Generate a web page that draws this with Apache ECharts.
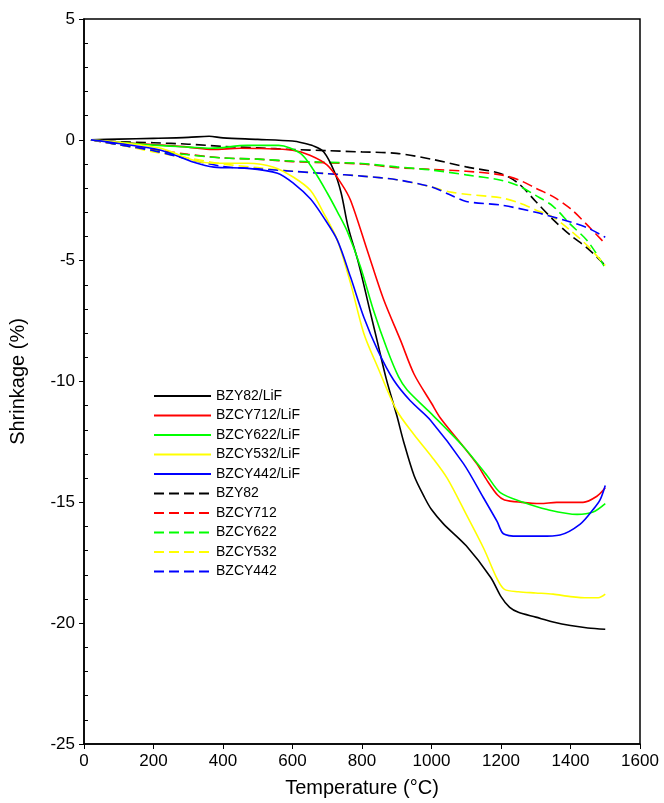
<!DOCTYPE html>
<html>
<head>
<meta charset="utf-8">
<script src="https://cdn.jsdelivr.net/npm/echarts@6/dist/echarts.min.js"></script>
<style>
  html, body { margin: 0; padding: 0; background: #fff; }
  #main { width: 664px; height: 803px; }
</style>
</head>
<body>
<div id="main"></div>
<script>
// shrinkage curves, [temperature, shrinkage %]
const bzy82LiF = [[20,0],[100,0.03],[200,0.06],[300,0.1],[360,0.15],[400,0.08],[500,0.02],[600,-0.05],[630,-0.13],[660,-0.25],[690,-0.5],[720,-1.3],[740,-2.2],[760,-3.6],[790,-5.1],[820,-6.9],[845,-8.4],[870,-9.9],[900,-11.4],[920,-12.5],[950,-13.9],[980,-14.8],[1000,-15.3],[1035,-15.9],[1100,-16.8],[1170,-18.1],[1200,-18.9],[1225,-19.35],[1250,-19.55],[1300,-19.75],[1350,-19.95],[1400,-20.1],[1450,-20.2],[1500,-20.25]];
const bzcy712LiF = [[20,0],[100,-0.1],[200,-0.2],[300,-0.3],[370,-0.4],[450,-0.35],[510,-0.36],[600,-0.43],[650,-0.64],[700,-1.05],[740,-1.8],[767,-2.5],[815,-4.57],[862,-6.6],[911,-8.3],[950,-9.7],[1000,-10.9],[1025,-11.5],[1092,-12.7],[1130,-13.4],[1160,-14.1],[1190,-14.7],[1210,-14.9],[1260,-15.0],[1313,-15.05],[1360,-15.0],[1436,-15.0],[1476,-14.75],[1500,-14.4]];
const bzcy622LiF = [[20,0],[100,-0.1],[200,-0.22],[300,-0.3],[365,-0.35],[470,-0.23],[560,-0.23],[623,-0.56],[661,-1.26],[700,-2.2],[730,-3.0],[758,-3.8],[796,-5.27],[833,-7.05],[873,-8.7],[905,-9.8],[930,-10.35],[997,-11.3],[1092,-12.7],[1160,-13.9],[1198,-14.6],[1264,-15.0],[1333,-15.3],[1419,-15.5],[1465,-15.4],[1500,-15.05]];
const bzcy532LiF = [[20,0],[100,-0.1],[221,-0.35],[316,-0.85],[374,-0.97],[471,-0.97],[546,-1.13],[603,-1.55],[652,-2.1],[690,-3.04],[729,-4.15],[767,-5.93],[805,-8.0],[845,-9.4],[900,-11.2],[950,-12.2],[1000,-13.1],[1045,-14.0],[1100,-15.5],[1150,-16.9],[1190,-18.2],[1210,-18.6],[1250,-18.7],[1300,-18.75],[1350,-18.8],[1400,-18.9],[1450,-18.95],[1480,-18.95],[1500,-18.8]];
const bzcy442LiF = [[20,0],[100,-0.15],[221,-0.43],[316,-0.93],[374,-1.13],[471,-1.18],[557,-1.38],[603,-1.8],[652,-2.45],[689,-3.2],[729,-4.15],[767,-5.68],[805,-7.33],[845,-8.7],[891,-9.94],[939,-10.8],[997,-11.6],[1092,-13.4],[1149,-14.8],[1189,-15.8],[1207,-16.3],[1250,-16.4],[1313,-16.4],[1370,-16.35],[1428,-15.9],[1465,-15.3],[1485,-14.9],[1500,-14.3]];
const bzy82 = [[20,0],[100,-0.08],[200,-0.12],[300,-0.18],[400,-0.27],[500,-0.33],[600,-0.4],[700,-0.45],[800,-0.5],[900,-0.56],[1000,-0.8],[1100,-1.12],[1200,-1.4],[1250,-1.8],[1300,-2.55],[1350,-3.3],[1400,-3.95],[1450,-4.5],[1500,-5.2]];
const bzcy712 = [[20,0],[100,-0.2],[200,-0.4],[300,-0.6],[400,-0.75],[500,-0.8],[600,-0.9],[700,-0.95],[800,-1.0],[900,-1.15],[1000,-1.22],[1100,-1.3],[1200,-1.45],[1250,-1.65],[1300,-2.0],[1350,-2.35],[1400,-2.85],[1450,-3.55],[1500,-4.3]];
const bzcy622 = [[20,0],[100,-0.2],[200,-0.45],[300,-0.62],[400,-0.75],[500,-0.8],[600,-0.88],[700,-0.93],[800,-0.98],[900,-1.12],[1000,-1.25],[1100,-1.45],[1200,-1.67],[1250,-1.9],[1300,-2.3],[1350,-2.75],[1400,-3.5],[1450,-4.2],[1500,-5.3]];
const bzcy532 = [[20,0],[100,-0.2],[200,-0.5],[300,-0.75],[400,-1.0],[500,-1.15],[600,-1.3],[700,-1.4],[800,-1.5],[900,-1.65],[1000,-1.95],[1050,-2.15],[1100,-2.25],[1200,-2.4],[1250,-2.6],[1300,-2.9],[1350,-3.2],[1400,-3.75],[1450,-4.4],[1500,-5.2]];
const bzcy442 = [[20,0],[100,-0.2],[200,-0.45],[300,-0.8],[400,-1.1],[500,-1.2],[600,-1.3],[700,-1.4],[800,-1.5],[900,-1.65],[1000,-1.95],[1050,-2.25],[1100,-2.55],[1200,-2.7],[1300,-3.0],[1400,-3.4],[1450,-3.65],[1500,-4.03]];

const names = ['BZY82/LiF','BZCY712/LiF','BZCY622/LiF','BZCY532/LiF','BZCY442/LiF','BZY82','BZCY712','BZCY622','BZCY532','BZCY442'];
const colors = ['#000000','#ff0000','#00ff00','#ffff00','#0000ff'];
const curves = [bzy82LiF, bzcy712LiF, bzcy622LiF, bzcy532LiF, bzcy442LiF, bzy82, bzcy712, bzcy622, bzcy532, bzcy442];

const font = 'Liberation Sans, Arial, sans-serif';

const series = curves.map(function (d, i) {
  return {
    name: names[i],
    type: 'line',
    data: d,
    symbol: 'none',
    smooth: 0.3,
    lineStyle: {
      color: colors[i % 5],
      width: 1.6,
      type: i < 5 ? 'solid' : [10, 5]
    },
    itemStyle: { color: colors[i % 5] },
    z: i < 5 ? 3 : 2
  };
});

const chart = echarts.init(document.getElementById('main'));
chart.setOption({
  animation: false,
  backgroundColor: '#fff',
  grid: {
    left: 83, right: 24, top: 19, bottom: 58,
    show: true, borderColor: '#000', borderWidth: 1.5
  },
  legend: {
    orient: 'vertical',
    left: 148, top: 384,
    itemWidth: 57, itemHeight: 14, itemGap: 5.5,
    itemStyle: { opacity: 0 },
    textStyle: { fontFamily: font, fontSize: 14, color: '#000' },
    data: names
  },
  xAxis: {
    type: 'value', min: 0, max: 1600, interval: 200,
    name: 'Temperature (°C)', nameLocation: 'middle', nameGap: 34,
    nameTextStyle: { fontFamily: font, fontSize: 20, color: '#000' },
    axisLine: { onZero: false, lineStyle: { color: '#000', width: 1.5 } },
    axisTick: { length: 5, lineStyle: { color: '#000' } },
    axisLabel: { fontFamily: font, fontSize: 17, color: '#000', margin: 9,
      formatter: function (v) { return String(v); } },
    splitLine: { show: false }
  },
  yAxis: {
    type: 'value', min: -25, max: 5, interval: 5,
    name: 'Shrinkage (%)', nameLocation: 'middle', nameGap: 56,
    nameTextStyle: { fontFamily: font, fontSize: 20, color: '#000' },
    axisLine: { show: true, lineStyle: { color: '#000', width: 1.5 } },
    axisTick: { show: true, length: 5, lineStyle: { color: '#000' } },
    minorTick: { show: true, splitNumber: 5, length: -4, lineStyle: { color: '#000' } },
    axisLabel: { fontFamily: font, fontSize: 17, color: '#000', margin: 9 },
    splitLine: { show: false }
  },
  series: series
});
</script>
</body>
</html>
